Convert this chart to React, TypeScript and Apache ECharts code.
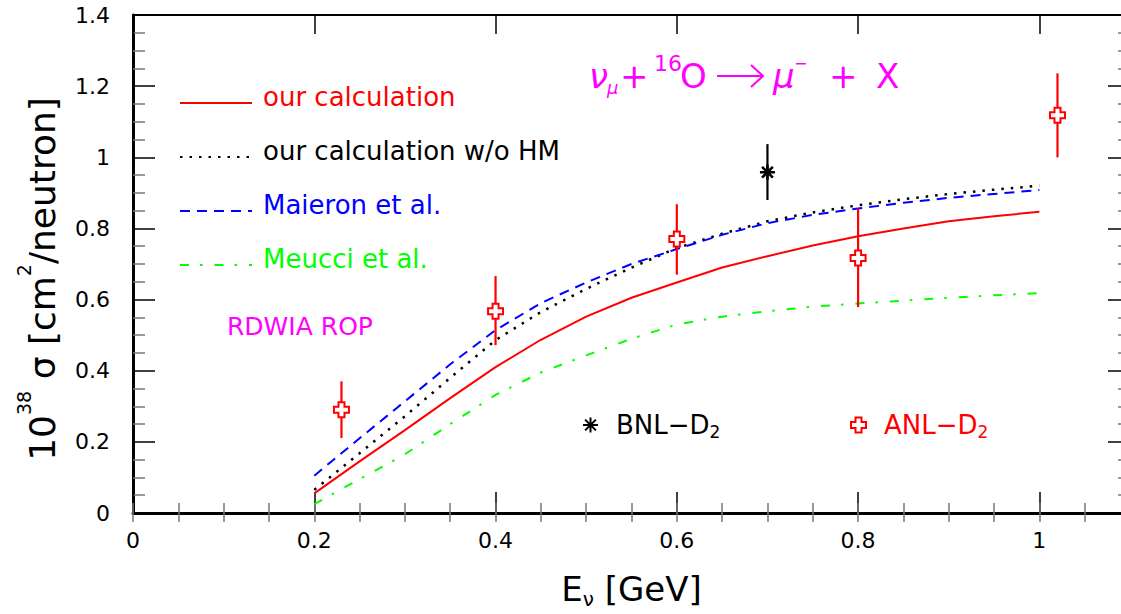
import React, { useEffect, useRef } from 'react';
import * as echarts from 'echarts';

// ---- data ----
const energies = [0.2, 0.25, 0.3, 0.35, 0.4, 0.45, 0.5, 0.55, 0.6, 0.65, 0.7, 0.75, 0.8, 0.85, 0.9, 0.95, 1.0];
const ourCalc = [0.055, 0.145, 0.233, 0.323, 0.41, 0.487, 0.552, 0.605, 0.648, 0.69, 0.722, 0.752, 0.778, 0.8, 0.82, 0.834, 0.847];
const ourCalcNoHM = [0.065, 0.168, 0.272, 0.38, 0.486, 0.565, 0.63, 0.69, 0.745, 0.785, 0.82, 0.845, 0.865, 0.882, 0.897, 0.909, 0.92];
const maieron = [0.105, 0.21, 0.314, 0.418, 0.514, 0.59, 0.648, 0.7, 0.742, 0.782, 0.815, 0.838, 0.856, 0.872, 0.886, 0.897, 0.908];
const meucci = [0.025, 0.095, 0.165, 0.25, 0.332, 0.395, 0.443, 0.49, 0.53, 0.552, 0.567, 0.58, 0.589, 0.597, 0.605, 0.612, 0.618];

const anlE = [0.23, 0.4, 0.6, 0.8, 1.02];
const anlSigma = [0.29, 0.567, 0.77, 0.717, 1.118];
const anlLow = [0.211, 0.472, 0.67, 0.579, 1.0];
const anlHigh = [0.37, 0.666, 0.868, 0.856, 1.236];

const bnlE = [0.7];
const bnlSigma = [0.958];
const bnlLow = [0.88];
const bnlHigh = [1.037];

const seriesNames = ['our calculation', 'our calculation w/o HM', 'Maieron et al.', 'Meucci et al.'];
const seriesColors = ['#ff0000', '#000000', '#0000ff', '#00ff00'];
const anlName = 'ANL\u2212D\u2082';
const bnlName = 'BNL\u2212D\u2082';

const xMin = 0;
const xMax = 1.1;
const xStep = 0.2;
const xMinorStep = 0.05;
const yMin = 0;
const yMax = 1.4;
const yStep = 0.2;

const FONT = 'DejaVu Sans';
const MAGENTA = '#ff00ff';

const crossPath = 'path://M-1.2,-3L1.2,-3L1.2,-1.2L3,-1.2L3,1.2L1.2,1.2L1.2,3L-1.2,3L-1.2,1.2L-3,1.2L-3,-1.2L-1.2,-1.2Z';
const starPath = 'path://M0,-1L0,1M-1,0L1,0M-0.72,-0.72L0.72,0.72M-0.72,0.72L0.72,-0.72';

const pairs = (xs: number[], ys: number[]) => xs.map((x, i) => [x, ys[i]]);

function errorBarRenderer(color: string, width: number) {
  return (params: any, api: any) => {
    const x = api.value(0);
    const p1 = api.coord([x, api.value(1)]);
    const p2 = api.coord([x, api.value(2)]);
    return {
      type: 'line',
      shape: { x1: p1[0], y1: p1[1], x2: p2[0], y2: p2[1] },
      style: { stroke: color, lineWidth: width },
    };
  };
}

export default function App() {
  const ref = useRef<HTMLDivElement>(null);

  useEffect(() => {
    if (!ref.current) return;
    const chart = echarts.init(ref.current, null, { renderer: 'svg' });

    const majorX = (position: 'bottom' | 'top', len: number, labels: boolean, lineW: number) => ({
      type: 'value',
      gridIndex: 0,
      position,
      min: xMin,
      max: xMax,
      interval: xStep,
      axisLine: { show: true, onZero: false, lineStyle: { color: '#000', width: lineW } },
      axisTick: { show: true, inside: true, length: len, lineStyle: { color: '#000', width: 1.5 } },
      axisLabel: labels
        ? {
            show: true,
            margin: 16,
            color: '#000',
            fontFamily: FONT,
            fontSize: 22,
            formatter: (v: number) =>
              Math.abs(v / xStep - Math.round(v / xStep)) < 1e-6 && v <= 1.0001 ? String(+v.toFixed(1)) : '',
          }
        : { show: false },
      splitLine: { show: false },
    });
    const minorX = (position: 'bottom' | 'top', len: number) => ({
      type: 'value',
      gridIndex: 0,
      position,
      min: xMin,
      max: xMax,
      interval: xMinorStep,
      axisLine: { show: false },
      axisTick: { show: true, inside: true, length: len, lineStyle: { color: '#777', width: 1.5 } },
      axisLabel: { show: false },
      splitLine: { show: false },
    });
    const yAx = (position: 'left' | 'right', labels: boolean) => ({
      type: 'value',
      gridIndex: 0,
      position,
      min: yMin,
      max: yMax,
      interval: yStep,
      axisLine: { show: true, onZero: false, lineStyle: { color: '#000', width: position === 'left' ? 3 : 2 } },
      axisTick: { show: true, inside: true, length: 22, lineStyle: { color: '#000', width: 1.5 } },
      minorTick: { show: true, splitNumber: 4, length: 12, lineStyle: { color: '#777', width: 1.5 } },
      axisLabel: labels
        ? { show: true, margin: 23, color: '#000', fontFamily: FONT, fontSize: 22 }
        : { show: false },
      splitLine: { show: false },
      minorSplitLine: { show: false },
    });

    const xA0: any = majorX('bottom', 21, true, 3);
    xA0.name = '{a|E}{b|\u03bd}{a| [GeV]}';
    xA0.nameLocation = 'middle';
    xA0.nameGap = 56;
    xA0.nameTextStyle = {
      rich: {
        a: { fontFamily: FONT, fontSize: 34, lineHeight: 40, color: '#000', verticalAlign: 'middle' },
        b: { fontFamily: FONT, fontSize: 20, lineHeight: 20, color: '#000', verticalAlign: 'bottom' },
      },
    };

    const yA0: any = yAx('left', true);
    yA0.name = '{a|10}{s|38}{a| \u03c3 [cm}{s|2}{a|/neutron]}';
    yA0.nameLocation = 'middle';
    yA0.nameRotate = 90;
    yA0.nameGap = 63;
    yA0.nameTextStyle = {
      padding: [0, 30, 0, 0],
      rich: {
        a: { fontFamily: FONT, fontSize: 36, lineHeight: 56, color: '#000', verticalAlign: 'middle' },
        s: { fontFamily: FONT, fontSize: 19, lineHeight: 19, color: '#000', verticalAlign: 'top' },
      },
    };

    const lineStyles = [
      { color: seriesColors[0], width: 2, type: 'solid' },
      { color: seriesColors[1], width: 2.5, type: [2.5, 7] },
      { color: seriesColors[2], width: 2, type: [10, 7] },
      { color: seriesColors[3], width: 2, type: [9, 11, 2.5, 12] },
    ];
    const curveData = [ourCalc, ourCalcNoHM, maieron, meucci];

    const lineSeries = seriesNames.map((name, i) => ({
      name,
      type: 'line',
      xAxisIndex: 0,
      yAxisIndex: 0,
      data: pairs(energies, curveData[i]),
      showSymbol: false,
      symbol: 'none',
      smooth: false,
      lineStyle: lineStyles[i] as any,
      itemStyle: { color: seriesColors[i] },
      z: 3,
    }));

    const subLegend = (label: string, color: string, left: number) => ({
      data: [{ name: label }],
      left,
      top: 412,
      padding: 0,
      itemWidth: 15,
      itemHeight: 15,
      selectedMode: false,
      formatter: (n: string) => `{a|${n.slice(0, -1)}}{b|2}`,
      textStyle: {
        padding: [0, 0, 0, 13],
        rich: {
          a: { fontFamily: FONT, fontSize: 26, lineHeight: 30, color, verticalAlign: 'middle' },
          b: { fontFamily: FONT, fontSize: 17, lineHeight: 17, color, verticalAlign: 'bottom' },
        },
      },
    });

    const option: any = {
      animation: false,
      backgroundColor: '#ffffff',
      textStyle: { fontFamily: FONT },
      grid: { left: 133, top: 15, width: 997, height: 501, containLabel: false },
      xAxis: [xA0, minorX('bottom', 10), majorX('top', 19, false, 2), minorX('top', 9)],
      yAxis: [yA0, yAx('right', false)],
      legend: [
        {
          data: seriesNames.map((n, i) => ({ name: n, textStyle: { color: seriesColors[i] } })),
          orient: 'vertical',
          left: 179,
          top: 84,
          padding: 0,
          itemGap: 16,
          itemWidth: 72,
          itemHeight: 14,
          selectedMode: false,
          itemStyle: { opacity: 0 },
          formatter: (n: string) => `{t|${n}}`,
          textStyle: {
            padding: [0, 0, 0, 6],
            rich: { t: { fontFamily: FONT, fontSize: 26, lineHeight: 28, padding: [0, 0, 12, 0] } },
          },
        },
        subLegend(bnlName, '#000000', 582),
        subLegend(anlName, '#ff0000', 850),
      ],
      series: [
        ...lineSeries,
        {
          name: 'ANL bars',
          type: 'custom',
          xAxisIndex: 0,
          yAxisIndex: 0,
          renderItem: errorBarRenderer('#ff0000', 2.2),
          data: anlE.map((e, i) => [e, anlLow[i], anlHigh[i]]),
          encode: { x: 0, y: [1, 2] },
          z: 4,
        },
        {
          name: 'BNL bars',
          type: 'custom',
          xAxisIndex: 0,
          yAxisIndex: 0,
          renderItem: errorBarRenderer('#000000', 2.2),
          data: bnlE.map((e, i) => [e, bnlLow[i], bnlHigh[i]]),
          encode: { x: 0, y: [1, 2] },
          z: 4,
        },
        {
          name: anlName,
          type: 'scatter',
          xAxisIndex: 0,
          yAxisIndex: 0,
          symbol: crossPath,
          symbolSize: 15,
          itemStyle: { color: '#ffffff', borderColor: '#ff0000', borderWidth: 2, opacity: 1 },
          data: pairs(anlE, anlSigma),
          z: 5,
        },
        {
          name: bnlName,
          type: 'scatter',
          xAxisIndex: 0,
          yAxisIndex: 0,
          symbol: starPath,
          symbolSize: 15,
          itemStyle: { color: '#000000', borderColor: '#000000', borderWidth: 2.6, opacity: 1 },
          data: pairs(bnlE, bnlSigma),
          z: 5,
        },
      ],
      graphic: [
        { type: 'text', left: 227, top: 314, style: { text: 'RDWIA ROP', fill: MAGENTA, font: `25px "${FONT}"` } },
        { type: 'text', x: 589, y: 76, style: { text: '\u03bd', fill: MAGENTA, font: `italic 34px "${FONT}"`, verticalAlign: 'middle' } },
        { type: 'text', x: 607, y: 87, style: { text: '\u03bc', fill: MAGENTA, font: `italic 18px "${FONT}"`, verticalAlign: 'middle' } },
        { type: 'text', x: 620, y: 76, style: { text: '+', fill: MAGENTA, font: `34px "${FONT}"`, verticalAlign: 'middle' } },
        { type: 'text', x: 654, y: 63, style: { text: '16', fill: MAGENTA, font: `22px "${FONT}"`, verticalAlign: 'middle' } },
        { type: 'text', x: 680, y: 76, style: { text: 'O', fill: MAGENTA, font: `34px "${FONT}"`, verticalAlign: 'middle' } },
        { type: 'line', shape: { x1: 717, y1: 76, x2: 762, y2: 76 }, style: { stroke: MAGENTA, lineWidth: 2 } },
        { type: 'polyline', shape: { points: [[751, 65], [763, 76], [751, 87]] }, style: { stroke: MAGENTA, lineWidth: 2, fill: 'none' } },
        { type: 'text', x: 773, y: 76, style: { text: '\u03bc', fill: MAGENTA, font: `italic 34px "${FONT}"`, verticalAlign: 'middle' } },
        { type: 'text', x: 794, y: 63, style: { text: '\u2212', fill: MAGENTA, font: `16px "${FONT}"`, verticalAlign: 'middle' } },
        { type: 'text', x: 829, y: 76, style: { text: '+', fill: MAGENTA, font: `34px "${FONT}"`, verticalAlign: 'middle' } },
        { type: 'text', x: 876, y: 76, style: { text: 'X', fill: MAGENTA, font: `34px "${FONT}"`, verticalAlign: 'middle' } },
      ],
    };

    chart.setOption(option);
    return () => chart.dispose();
  }, []);

  return (
    <div style={{ position: 'fixed', left: 0, top: 0, width: 1121, height: 614, overflow: 'hidden', background: '#fff' }}>
      <div ref={ref} style={{ width: 1140, height: 614 }} />
    </div>
  );
}
